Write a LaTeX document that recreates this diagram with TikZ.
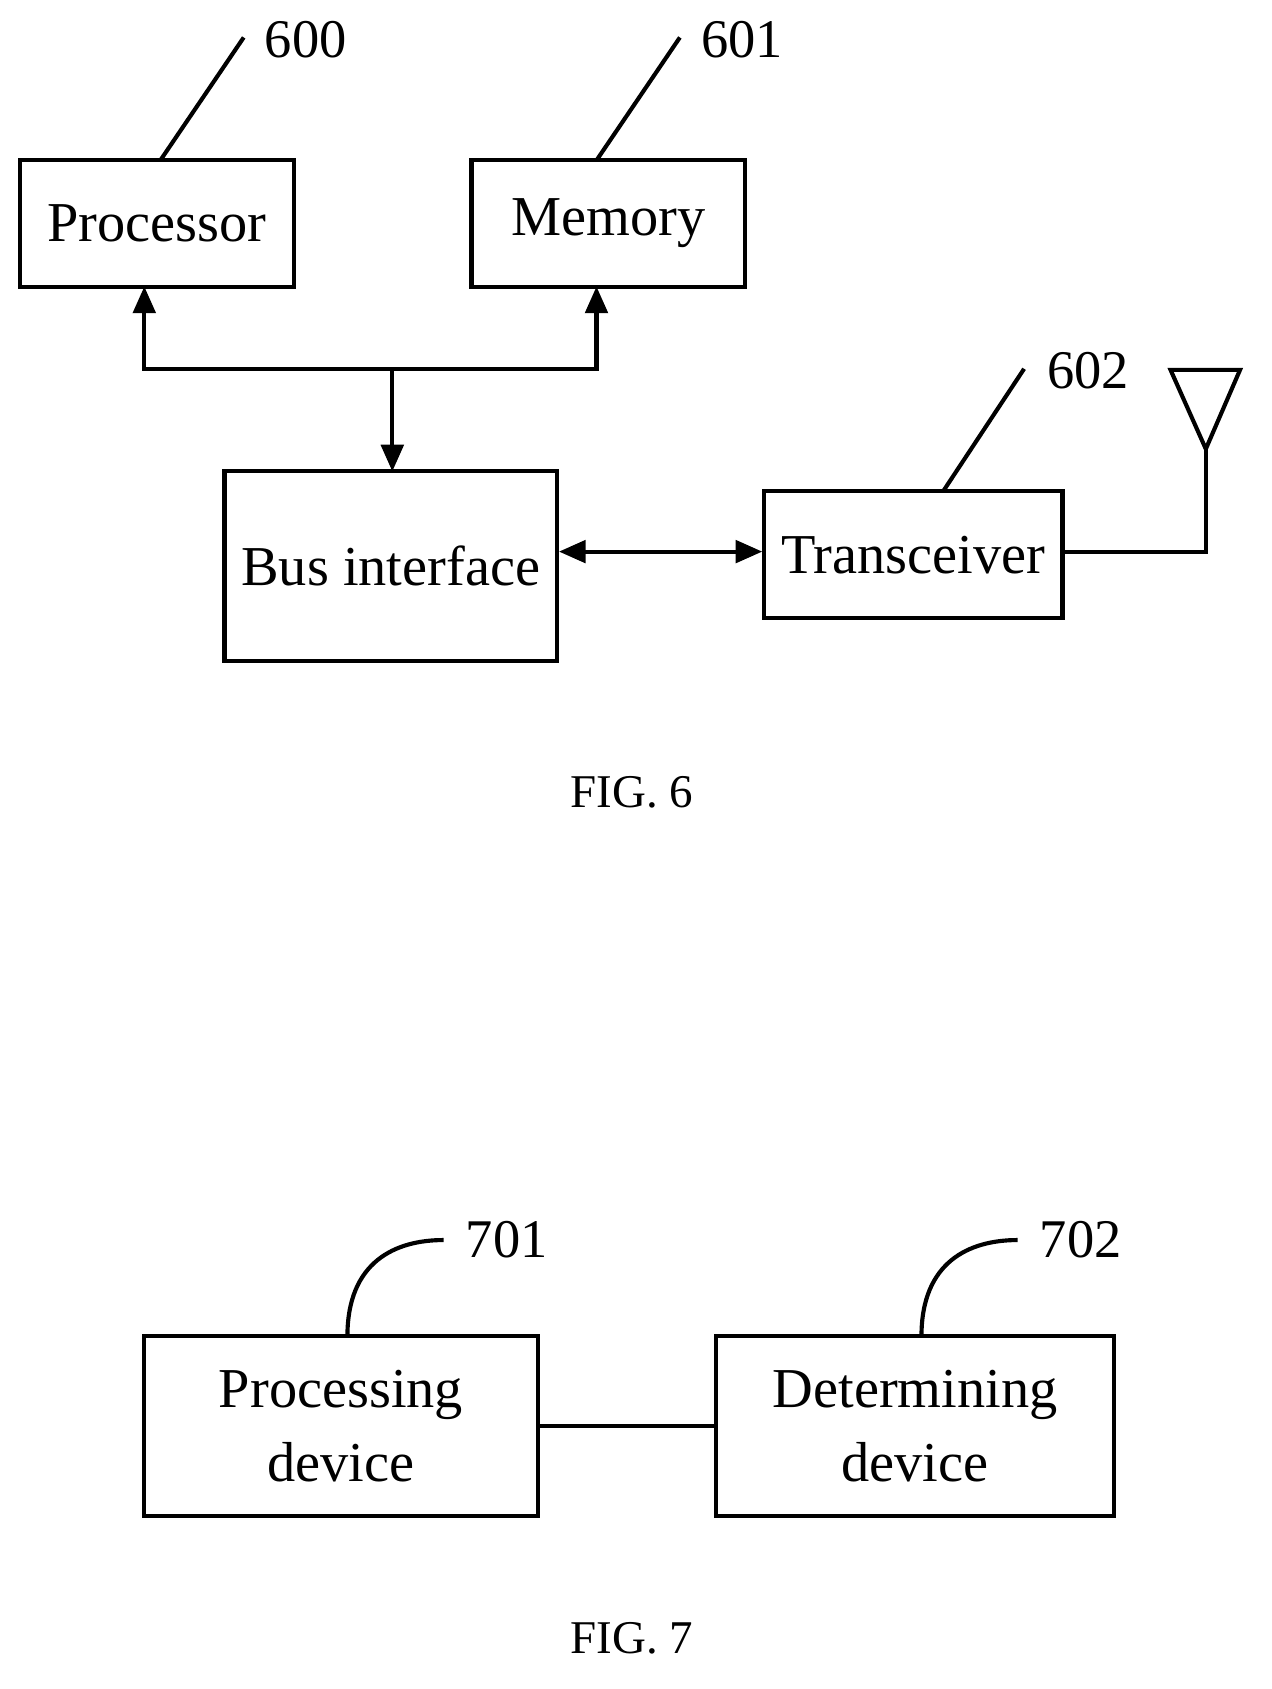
\documentclass[tikz,border=0pt]{standalone}
\usepackage{fontspec}
\setmainfont{Liberation Serif}
\usetikzlibrary{arrows.meta}
\begin{document}
\begin{tikzpicture}[x=0.02cm,y=-0.02cm,line width=2.2pt,
 box/.style={draw,rectangle,inner sep=0pt,font=\fontsize{30}{39}\selectfont,align=center},
 lbl/.style={font=\fontsize{29}{33}\selectfont},
 ar/.style={-{Triangle[length=0.5cm,width=0.42cm]}},
 dar/.style={{Triangle[length=0.5cm,width=0.42cm]}-{Triangle[length=0.5cm,width=0.42cm]}}]
\useasboundingbox (0,0) rectangle (1189,1580);
\node[box,minimum width=5.12cm,minimum height=2.38cm] (proc) at (147,209) {Processor};
\node[box,minimum width=5.12cm,minimum height=2.38cm] (mem) at (569,209) {Memory};
\node[box,minimum width=6.22cm,minimum height=3.56cm] (bus) at (365.5,529.5) {Bus interface};
\node[box,minimum width=5.58cm,minimum height=2.38cm] (tr) at (854.5,519) {Transceiver};
\coordinate (j) at (367,345);
\draw[ar] (j) -- (135,345) -- (135,268);
\draw[ar] (j) -- (558,345) -- (558,268);
\draw[ar] (j) -- (367,441);
\draw[dar] (bus.east |- 0,516) -- (tr.west |- 0,516);
\coordinate (ant) at (1128,420);
\draw (tr.east |- 0,516) -- (1128,516) -- (ant);
\draw (ant) -- (1095,346) -- (1160,346) -- cycle;
\node[lbl,anchor=west] (l600) at (240,37) {600};
\node[lbl,anchor=west] (l601) at (648,37) {601};
\node[lbl,anchor=west] (l602) at (972,347) {602};
\draw (150,150) -- (228,35);
\draw (558,150) -- (636,35);
\draw (882,460) -- (958,345);
\node[font=\fontsize{25}{29}\selectfont] (f6) at (591,741) {FIG. 6};
\node[box,minimum width=7.38cm,minimum height=3.38cm] (pd) at (319,1334) {Processing\\device};
\node[box,minimum width=7.46cm,minimum height=3.38cm] (dd) at (856,1334) {Determining\\device};
\draw (pd.east) -- (dd.west);
\node[lbl,anchor=west] (l701) at (428,1160) {701};
\node[lbl,anchor=west] (l702) at (965,1160) {702};
\draw (325,1250) .. controls (325,1180) and (370,1160) .. (415,1160);
\draw (862,1250) .. controls (862,1180) and (907,1160) .. (952,1160);
\node[font=\fontsize{25}{29}\selectfont] (f7) at (591,1533) {FIG. 7};
\end{tikzpicture}
\end{document}
